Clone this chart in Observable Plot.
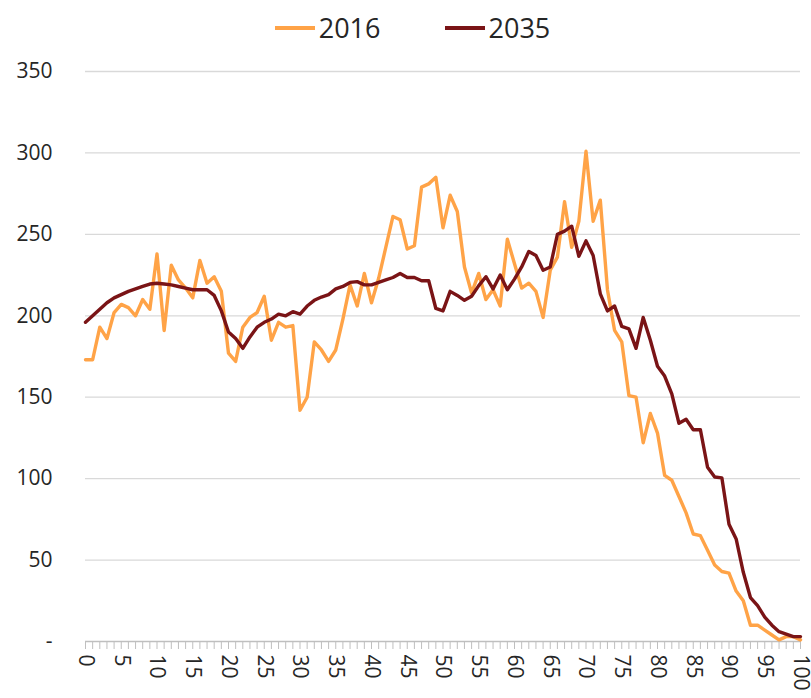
<!DOCTYPE html>
<html>
<head>
<meta charset="utf-8">
<script src="https://cdn.jsdelivr.net/npm/d3@7"></script>
<script src="https://cdn.jsdelivr.net/npm/@observablehq/plot@0.6"></script>
<style>
  html, body { margin: 0; padding: 0; background: white; }
  #legend { height: 55px; display: flex; justify-content: center; align-items: center; gap: 64px;
            font-family: "Open Sans", sans-serif; font-size: 27px; color: #262626; padding-left: 14px; box-sizing: border-box; }
  #legend .item { display: flex; align-items: center; gap: 4px; }
  #legend .sw { width: 40px; height: 4px; display: inline-block; }
</style>
</head>
<body>
<div id="legend"></div>
<div id="chart"></div>
<script>
const seriesNames = ["2016", "2035"];
const seriesColors = ["#FFA347", "#7A1416"];
const ages = Array.from({length: 101}, (_, i) => i);
const values2016 = [173,173,193,186,202,207,205,200,210,204,
  238,191,231,222,217,211,234,220,224,215,
  177,172,193,199,202,212,185,196,193,194,
  142,150,184,179,172,179,198,219,206,226,
  208,223,242,261,259,241,243,279,281,285,
  254,274,264,230,214,226,210,216,206,247,
  232,217,220,215,199,228,236,270,242,258,
  301,258,271,216,191,184,151,150,122,140,
  128,102,99,89,79,66,65,56,47,43,
  42,31,25,10,10,7,4,1,3,3,
  1];
const values2035 = [196,200,204,208,211,213,215,216.5,218,219.5,
  220,219.5,219,218,217,216,216,216,212.5,203,
  190,186,180,187,193,196,198,201,200,202.5,
  201,206,209.5,211.5,213,216.5,218,220.5,221,219,
  219,220.5,222,223.5,226,223.5,223.5,221.5,221.5,204.5,
  203,215,212.5,209.5,212,218.5,224,216.5,225,216,
  222.5,230,239.5,237,228,230,250,252,255,236.5,
  246,237,213.5,203,206,193.5,192,180,199,185,
  169,163,152,134,136.5,130,130,107,101,100.5,
  72,63,42.5,27,22,15,10,6,4.5,3,
  3];
const yTicks = [0,50,100,150,200,250,300,350];

// legend
const legend = document.getElementById("legend");
seriesNames.forEach((n, i) => {
  const it = document.createElement("span");
  it.className = "item";
  it.innerHTML = `<span class="sw" style="background:${seriesColors[i]}"></span><span>${n}</span>`;
  legend.appendChild(it);
});

const rows = [];
ages.forEach((a, i) => {
  rows.push({age: a, value: values2016[i], series: seriesNames[0]});
});
ages.forEach((a, i) => {
  rows.push({age: a, value: values2035[i], series: seriesNames[1]});
});

const chart = Plot.plot({
  width: 811,
  height: 643,
  marginLeft: 85,
  marginRight: 11,
  marginTop: 16,
  marginBottom: 57,
  style: {fontFamily: "Open Sans, sans-serif", fontSize: "21px", color: "#262626", background: "white", overflow: "visible"},
  x: {domain: [0, 100]},
  y: {domain: [0, 350]},
  color: {domain: seriesNames, range: seriesColors},
  marks: [
    Plot.gridY(yTicks.filter(d => d > 0), {stroke: "#d9d9d9", strokeOpacity: 1, strokeWidth: 1.3}),
    Plot.axisY(yTicks, {tickSize: 0, tickPadding: 33, tickFormat: d => d === 0 ? "-" : String(d), label: null}),
    Plot.ruleY([0], {stroke: "#bfbfbf", strokeWidth: 1.3}),
    Plot.axisX(ages, {tickSize: 8, stroke: "#bfbfbf", strokeOpacity: 1, tickFormat: d => d % 5 === 0 ? String(d) : "", tickRotate: 90, tickPadding: 5, label: null}),
    Plot.line(rows, {x: "age", y: "value", z: "series", stroke: "series", strokeWidth: 3.4, strokeLinejoin: "round"})
  ]
});
document.getElementById("chart").appendChild(chart);
</script>
</body>
</html>
